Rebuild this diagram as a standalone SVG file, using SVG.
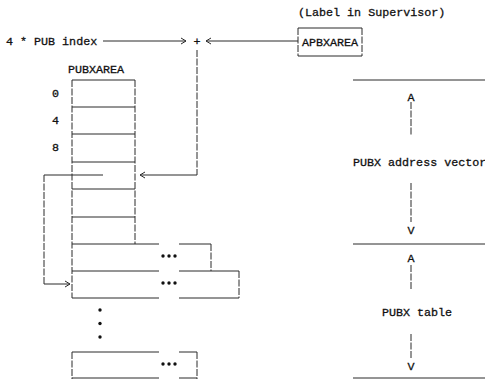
<svg xmlns="http://www.w3.org/2000/svg" width="485" height="379" viewBox="0 0 485 379">
<style>
text{font-family:"Liberation Mono","DejaVu Sans Mono",monospace;font-size:11.7px;fill:#111;stroke:#111;stroke-width:0.3}
.m{text-anchor:middle}
.h{stroke:#2a2a2a;stroke-width:1;fill:none}
.v{stroke:#2a2a2a;stroke-width:1;fill:none;stroke-dasharray:7 1.5}
.dot{fill:#111}
</style>
<defs>
<marker id="ar" markerWidth="8" markerHeight="8" refX="6" refY="4" orient="auto" markerUnits="userSpaceOnUse">
<path d="M1,1 L6,4 L1,7" fill="none" stroke="#2a2a2a" stroke-width="1"/>
</marker>
</defs>
<rect width="485" height="379" fill="#fff"/>

<g id="pubindex"><text x="6" y="45">4 * PUB index</text></g>
<g id="plus"><text class="m" x="197" y="45">+</text></g>
<g id="label-super"><text x="298" y="16">(Label in Supervisor)</text></g>
<g id="apbxarea">
<path class="h" d="M298,28 H362 M298,56 H362"/>
<path class="v" d="M298,28 V56 M362,28 V56"/>
<text class="m" x="330" y="46">APBXAREA</text>
</g>

<g id="pubxarea">
<text x="68" y="73">PUBXAREA</text>
<text x="52" y="97">0</text>
<text x="52" y="124">4</text>
<text x="52" y="151">8</text>
<path class="h" d="M72,80 H135 M72,107 H135 M72,134 H135 M72,162 H135 M72,189 H135 M72,217 H135"/>
<path class="v" d="M72,80 V298 M135,80 V244"/>
</g>

<g id="row1">
<path class="h" d="M72,244 H159 M179,244 H211 M72,271 H159 M179,271 H239"/>
<path class="v" d="M211,244 V271"/>
<circle class="dot" cx="163" cy="256" r="1.7"/><circle class="dot" cx="169" cy="256" r="1.7"/><circle class="dot" cx="175" cy="256" r="1.7"/>
</g>
<g id="row2">
<path class="h" d="M72,298 H159 M179,298 H239"/>
<path class="v" d="M239,271 V298"/>
<circle class="dot" cx="163" cy="283" r="1.7"/><circle class="dot" cx="169" cy="283" r="1.7"/><circle class="dot" cx="175" cy="283" r="1.7"/>
</g>
<g id="vdots">
<circle class="dot" cx="100" cy="310" r="1.7"/><circle class="dot" cx="100" cy="323.5" r="1.7"/><circle class="dot" cx="100" cy="337" r="1.7"/>
</g>
<g id="rowlast">
<path class="h" d="M72,352 H159 M179,352 H197 M72,378 H159 M179,378 H197"/>
<path class="v" d="M72,352 V379 M197,352 V379"/>
<circle class="dot" cx="163" cy="364" r="1.7"/><circle class="dot" cx="169" cy="364" r="1.7"/><circle class="dot" cx="175" cy="364" r="1.7"/>
</g>

<g id="vector">
<path class="h" d="M353,80 H485 M353,244 H485 M353,378 H485"/>
<text class="m" x="411" y="101">A</text>
<path class="v" d="M411,102 V136 M411,183 V222 M411,265 V290 M411,334 V358"/>
<text x="353" y="166">PUBX address vector</text>
<text class="m" x="411" y="234">V</text>
<text class="m" x="411" y="262">A</text>
<text x="382" y="316">PUBX table</text>
<text class="m" x="411" y="370">V</text>
</g>

<g id="connectors">
<path class="h" d="M103,41 H186" marker-end="url(#ar)"/>
<path class="h" d="M298,41 H206" marker-end="url(#ar)"/>
<path class="v" d="M197,50 V175"/>
<path class="h" d="M197,175 H140" marker-end="url(#ar)"/>
<path class="h" d="M103,175 H44"/>
<path class="v" d="M44,175 V284"/>
<path class="h" d="M44,284 H70" marker-end="url(#ar)"/>
</g>
</svg>
